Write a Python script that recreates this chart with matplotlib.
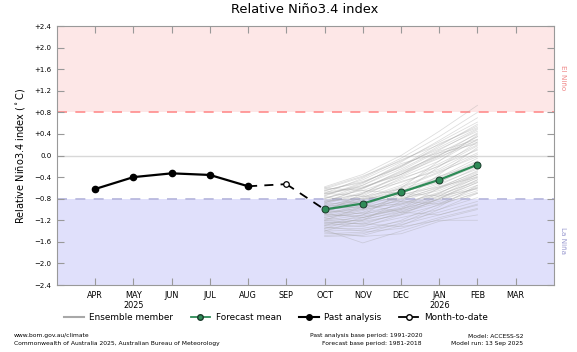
import matplotlib
matplotlib.use("Agg")
import matplotlib.pyplot as plt
from matplotlib.lines import Line2D

months = ["APR", "MAY", "JUN", "JUL", "AUG", "SEP", "OCT", "NOV", "DEC", "JAN", "FEB", "MAR"]
month_pos = list(range(1, 13))
year_labels = {"MAY": "2025", "JAN": "2026"}

past_months = ["APR", "MAY", "JUN", "JUL", "AUG"]
past_values = [-0.62, -0.40, -0.33, -0.36, -0.57]

mtd_month = "SEP"
mtd_value = -0.53

fc_months = ["OCT", "NOV", "DEC", "JAN", "FEB"]
fc_mean = [-1.00, -0.89, -0.68, -0.45, -0.17]

ensemble = [
    [-0.58, -0.35, 0.00, 0.45, 0.93],
    [-0.62, -0.40, -0.05, 0.35, 0.80],
    [-0.66, -0.45, -0.12, 0.28, 0.70],
    [-0.70, -0.42, -0.08, 0.20, 0.55],
    [-0.64, -0.50, -0.20, 0.15, 0.50],
    [-0.72, -0.55, -0.25, 0.10, 0.48],
    [-0.75, -0.52, -0.15, 0.05, 0.40],
    [-0.80, -0.60, -0.30, 0.00, 0.42],
    [-0.68, -0.58, -0.35, -0.05, 0.35],
    [-0.78, -0.65, -0.40, -0.10, 0.30],
    [-0.85, -0.62, -0.28, 0.08, 0.30],
    [-0.90, -0.70, -0.38, -0.02, 0.25],
    [-0.82, -0.72, -0.45, -0.15, 0.20],
    [-0.95, -0.75, -0.42, -0.20, 0.18],
    [-0.88, -0.68, -0.50, -0.25, 0.12],
    [-0.92, -0.80, -0.55, -0.18, 0.10],
    [-1.00, -0.78, -0.48, -0.28, 0.05],
    [-0.98, -0.85, -0.60, -0.32, 0.02],
    [-1.05, -0.82, -0.58, -0.30, -0.02],
    [-0.86, -0.76, -0.62, -0.40, -0.05],
    [-0.60, -0.38, -0.10, 0.25, 0.62],
    [-0.65, -0.48, -0.22, 0.18, 0.58],
    [-0.74, -0.50, -0.18, 0.12, 0.45],
    [-0.80, -0.55, -0.20, 0.22, 0.52],
    [-0.70, -0.60, -0.32, 0.02, 0.28],
    [-0.88, -0.60, -0.35, 0.05, 0.22],
    [-1.02, -0.90, -0.65, -0.42, -0.10],
    [-0.94, -0.88, -0.70, -0.45, -0.12],
    [-1.08, -0.92, -0.68, -0.50, -0.15],
    [-1.10, -0.95, -0.72, -0.38, -0.18],
    [-0.96, -0.82, -0.66, -0.48, -0.20],
    [-1.04, -0.98, -0.78, -0.55, -0.22],
    [-1.12, -1.00, -0.75, -0.52, -0.25],
    [-0.90, -0.86, -0.80, -0.60, -0.28],
    [-1.15, -1.02, -0.82, -0.58, -0.30],
    [-1.00, -0.94, -0.85, -0.62, -0.32],
    [-1.18, -1.05, -0.80, -0.65, -0.35],
    [-1.06, -1.00, -0.88, -0.70, -0.38],
    [-0.84, -0.80, -0.72, -0.58, -0.40],
    [-1.20, -1.10, -0.90, -0.68, -0.42],
    [-1.14, -1.06, -0.92, -0.75, -0.45],
    [-0.98, -0.96, -0.90, -0.72, -0.48],
    [-1.22, -1.15, -0.95, -0.78, -0.50],
    [-1.10, -1.12, -1.00, -0.80, -0.55],
    [-1.25, -1.20, -1.02, -0.85, -0.58],
    [-1.02, -1.08, -0.98, -0.82, -0.60],
    [-1.28, -1.18, -1.05, -0.88, -0.65],
    [-1.16, -1.22, -1.10, -0.92, -0.68],
    [-1.30, -1.25, -1.08, -0.80, -0.45],
    [-1.08, -1.15, -1.00, -0.70, -0.35],
    [-1.34, -1.30, -1.15, -1.00, -0.78],
    [-1.20, -1.28, -1.05, -0.75, -0.40],
    [-1.36, -1.35, -1.22, -1.05, -0.85],
    [-1.26, -1.32, -1.10, -0.80, -0.50],
    [-1.40, -1.38, -1.28, -1.10, -0.90],
    [-1.32, -1.40, -1.20, -0.90, -0.60],
    [-1.45, -1.42, -1.35, -1.15, -0.98],
    [-1.38, -1.62, -1.40, -1.18, -1.00],
    [-1.48, -1.45, -1.25, -0.95, -0.55],
    [-1.42, -1.50, -1.45, -1.22, -1.10],
    [-1.50, -1.48, -1.30, -1.00, -0.70],
    [-1.24, -1.26, -1.32, -1.20, -1.20],
    [-1.30, -1.10, -0.70, -0.20, 0.25],
    [-1.40, -1.20, -0.85, -0.35, 0.15],
    [-1.20, -0.95, -0.60, -0.10, 0.38],
    [-0.70, -0.75, -0.85, -0.90, -0.70],
    [-0.60, -0.65, -0.70, -0.75, -0.62],
    [-0.76, -0.90, -1.05, -1.10, -0.92],
    [-1.35, -1.15, -0.98, -0.60, -0.35],
    [-1.05, -0.70, -0.35, 0.00, 0.35],
]

yticks = [2.4, 2.0, 1.6, 1.2, 0.8, 0.4, 0.0, -0.4, -0.8, -1.2, -1.6, -2.0, -2.4]
ytick_labels = ["+2.4", "+2.0", "+1.6", "+1.2", "+0.8", "+0.4", "0.0",
                "\u22120.4", "\u22120.8", "\u22121.2", "\u22121.6", "\u22122.0", "\u22122.4"]

pos = dict(zip(months, month_pos))

fig = plt.figure(figsize=(5.77, 3.52), dpi=100)
ax = fig.add_axes([0.0988, 0.1903, 0.8612, 0.7357])
ax.set_xlim(0, 13)
ax.set_ylim(-2.4, 2.4)

ax.axhspan(0.8, 2.4, color="#fde7e7", zorder=0, lw=0)
ax.axhspan(-2.4, -0.8, color="#e0e0fb", zorder=0, lw=0)
ax.axhline(0.8, color="#ff8c8c", lw=1.2, ls=(0, (6, 5)), zorder=1)
ax.axhline(-0.8, color="#b4b4dc", lw=1.2, ls=(0, (6, 5)), zorder=1)
ax.axhline(0.0, color="#d8d8d8", lw=1.0, zorder=1)

fx = [pos[m] for m in fc_months]
for mem in ensemble:
    ax.plot(fx, mem, color="#a8a8a8", lw=0.55, alpha=0.4, zorder=2)

# month-to-date dashed links
ax.plot([pos[past_months[-1]], pos[mtd_month]], [past_values[-1], mtd_value],
        color="black", lw=1.3, ls=(0, (5, 4)), zorder=3)
ax.plot([pos[mtd_month], pos[fc_months[0]]], [mtd_value, fc_mean[0]],
        color="black", lw=1.3, ls=(0, (5, 4)), zorder=3)
ax.plot([pos[mtd_month]], [mtd_value], marker="o", ms=4, mfc="white", mec="black",
        mew=0.9, ls="none", zorder=5)

ax.plot([pos[m] for m in past_months], past_values, color="black", lw=1.6,
        marker="o", ms=4.5, zorder=4)
ax.plot(fx, fc_mean, color="#2e8b57", lw=1.6, marker="o", ms=5,
        mfc="#2e8b57", mec="#1a3a2a", mew=0.7, zorder=6)

ax.set_xticks(month_pos)
ax.set_xticklabels(months, fontsize=5.9)
ax.set_yticks(yticks)
ax.set_yticklabels(ytick_labels, fontsize=5.0)
ax.tick_params(axis="both", direction="in", length=5, color="#999999",
               top=True, right=True, labelright=False, pad=4)
ax.tick_params(axis="x", pad=4)
for s in ax.spines.values():
    s.set_color("#999999")
    s.set_linewidth(0.8)

for m, yr in year_labels.items():
    ax.text(pos[m], -0.062, yr, transform=ax.get_xaxis_transform(),
            ha="center", va="top", fontsize=5.9)

ax.set_ylabel("Relative Niño3.4 index ($^\\circ$C)", fontsize=7.0, labelpad=5)
fig.text(305 / 577, 0.972, "Relative Niño3.4 index", ha="center", va="center", fontsize=9.4)

fig.text(0.976, 0.78, "El Niño", rotation=270, ha="center", va="center",
         fontsize=5.2, color="#f08a8a")
fig.text(0.976, 0.318, "La Niña", rotation=270, ha="center", va="center",
         fontsize=5.2, color="#9a9ad0")

handles = [
    Line2D([], [], color="#a8a8a8", lw=1.5),
    Line2D([], [], color="#2e8b57", lw=1.3, marker="o", ms=4, mfc="#2e8b57", mec="#1a3a2a"),
    Line2D([], [], color="black", lw=1.5, marker="o", ms=4),
    Line2D([], [], color="black", lw=1.3, marker="o", ms=4, mfc="white"),
]
labels = ["Ensemble member", "Forecast mean", "Past analysis", "Month-to-date"]
fig.legend(handles, labels, loc="center", bbox_to_anchor=(0.478, 0.097), ncol=4,
           frameon=False, fontsize=6.4, handlelength=2.2, columnspacing=2.0,
           handletextpad=0.6)

fs = 4.3
fig.text(14 / 577, 1 - 336 / 352, "www.bom.gov.au/climate", fontsize=fs, va="center")
fig.text(14 / 577, 1 - 343 / 352,
         "Commonwealth of Australia 2025, Australian Bureau of Meteorology",
         fontsize=fs, va="center")
fig.text(422 / 577, 1 - 336 / 352, "Past analysis base period: 1991-2020",
         fontsize=fs, va="center", ha="right")
fig.text(422 / 577, 1 - 343 / 352, "Forecast base period: 1981-2018",
         fontsize=fs, va="center", ha="right")
fig.text(523 / 577, 1 - 336 / 352, "Model: ACCESS-S2", fontsize=fs, va="center", ha="right")
fig.text(523 / 577, 1 - 343 / 352, "Model run: 13 Sep 2025", fontsize=fs, va="center", ha="right")

fig.savefig("out.png", dpi=100)
